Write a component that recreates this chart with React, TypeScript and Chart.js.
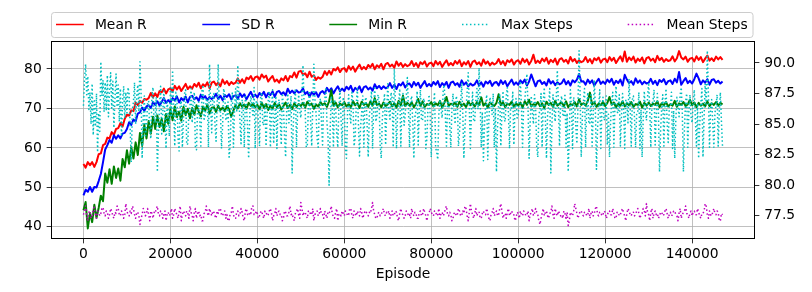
import React, { useEffect, useRef } from "react";
import { Chart, registerables } from "chart.js";

Chart.register(...registerables);

// ---------- data ----------
// reward series: one sample every 500 episodes; step series: one sample every 250 episodes
const R_EPISODE_STEP = 500;
const STEPS_EPISODE_STEP = 250;

const meanR = [
  55.9, 55.0, 56.4, 55.6, 56.4, 55.2, 56.4, 58.4, 58.6, 60.7,
  61.0, 62.6, 62.4, 64.0, 63.3, 64.8, 65.0, 66.3, 65.4, 67.4,
  68.4, 68.2, 69.5, 69.3, 71.5, 70.8, 71.9, 71.4, 72.4, 72.2,
  72.6, 73.9, 72.8, 73.8, 72.9, 74.4, 74.1, 75.0, 73.8, 74.8,
  75.1, 74.3, 75.7, 74.8, 75.6, 74.4, 75.3, 76.2, 74.9, 75.6,
  75.0, 76.2, 75.5, 76.5, 75.1, 76.1, 75.6, 76.6, 75.1, 76.5,
  76.8, 75.9, 76.5, 75.6, 77.3, 76.2, 76.9, 75.9, 76.7, 76.2,
  76.5, 77.6, 76.5, 77.4, 76.4, 77.8, 77.4, 78.2, 77.0, 77.9,
  78.1, 77.3, 78.6, 77.8, 78.3, 76.8, 77.6, 78.2, 76.8, 77.3,
  76.5, 77.6, 77.1, 78.2, 76.9, 78.2, 77.9, 79.1, 77.8, 79.3,
  79.5, 78.5, 78.9, 77.9, 79.3, 78.0, 78.4, 77.2, 77.9, 77.5,
  78.0, 79.4, 78.5, 79.5, 78.6, 80.0, 79.6, 80.4, 79.2, 80.0,
  80.2, 79.3, 80.7, 79.8, 80.6, 79.3, 80.3, 81.1, 79.9, 80.5,
  79.9, 81.0, 80.4, 81.3, 79.9, 80.9, 80.4, 81.3, 79.9, 81.2,
  81.5, 80.6, 81.1, 80.3, 81.9, 80.8, 81.5, 80.5, 81.2, 80.7,
  81.0, 82.0, 80.7, 81.5, 80.4, 81.7, 81.2, 81.9, 80.6, 81.4,
  81.6, 80.7, 82.0, 81.1, 81.8, 80.5, 81.4, 82.2, 80.9, 81.5,
  80.9, 82.0, 81.3, 82.2, 80.7, 81.7, 81.1, 82.0, 80.5, 81.8,
  82.1, 81.2, 81.7, 80.8, 82.4, 81.3, 81.9, 80.9, 81.6, 81.1,
  81.5, 82.5, 81.2, 82.0, 80.9, 82.2, 81.7, 82.4, 81.1, 81.9,
  82.2, 81.3, 82.6, 81.7, 82.4, 81.1, 82.0, 83.6, 81.5, 82.1,
  81.5, 82.6, 81.9, 82.8, 81.3, 82.3, 81.7, 82.6, 81.1, 82.4,
  82.7, 81.8, 82.3, 81.4, 83.0, 81.9, 82.5, 81.5, 82.2, 81.7,
  82.0, 83.0, 81.7, 82.5, 81.4, 82.7, 82.2, 82.9, 81.6, 82.4,
  82.6, 81.7, 83.0, 82.1, 82.8, 81.5, 82.4, 83.2, 81.9, 84.4,
  81.8, 82.9, 82.2, 83.1, 81.6, 82.6, 82.0, 82.9, 81.4, 82.7,
  83.0, 82.1, 82.6, 81.7, 83.3, 82.2, 82.8, 81.8, 82.5, 82.0,
  82.2, 83.2, 81.9, 82.7, 84.5, 82.9, 82.4, 83.1, 81.8, 82.6,
  82.8, 81.9, 83.2, 82.3, 83.0, 81.7, 82.6, 83.4, 82.1, 82.7,
  82.0, 83.1, 82.4, 83.0, 82.3,
];

const sdR = [
  48.0, 49.4, 48.9, 50.1, 48.9, 50.1, 50.0, 51.6, 53.4, 56.4,
  59.6, 60.7, 62.0, 61.3, 63.2, 62.3, 63.2, 62.4, 63.6, 63.8,
  64.8, 66.5, 65.8, 67.2, 66.7, 68.7, 69.0, 70.2, 69.4, 70.5,
  70.8, 70.1, 71.6, 70.9, 71.8, 70.7, 71.7, 72.6, 71.4, 72.1,
  71.5, 72.6, 72.0, 73.0, 71.5, 72.6, 72.0, 73.0, 71.5, 72.9,
  73.2, 72.3, 72.8, 71.9, 73.5, 72.5, 73.1, 72.1, 72.9, 72.4,
  72.7, 73.7, 72.4, 73.2, 72.1, 73.4, 72.9, 73.6, 72.3, 73.1,
  73.3, 72.4, 73.8, 72.9, 73.6, 72.3, 73.3, 74.2, 72.9, 73.5,
  72.8, 73.9, 73.3, 74.2, 72.8, 73.9, 73.4, 74.3, 72.9, 74.2,
  74.4, 73.6, 74.1, 73.3, 75.0, 73.9, 74.5, 73.8, 74.6, 74.0,
  74.2, 75.1, 73.6, 74.2, 72.9, 74.1, 73.5, 74.1, 72.9, 74.0,
  74.4, 73.7, 75.2, 74.3, 75.1, 73.8, 74.8, 75.6, 74.4, 75.0,
  74.4, 75.5, 74.8, 75.7, 74.2, 75.2, 74.7, 75.6, 74.1, 75.4,
  75.6, 74.8, 75.3, 74.5, 76.1, 75.1, 75.7, 74.9, 75.6, 75.1,
  75.4, 76.4, 75.2, 76.0, 74.9, 76.2, 75.8, 76.6, 75.3, 76.1,
  76.3, 75.4, 76.7, 75.8, 76.5, 75.2, 76.1, 76.9, 75.6, 76.2,
  75.6, 76.7, 76.0, 76.9, 75.4, 76.4, 75.8, 76.7, 75.2, 76.5,
  76.8, 75.9, 76.4, 75.5, 77.1, 76.0, 76.6, 75.6, 76.3, 75.8,
  76.1, 77.1, 75.8, 76.6, 75.5, 76.8, 76.3, 77.0, 75.7, 76.5,
  76.7, 75.8, 77.1, 76.2, 76.9, 75.6, 76.5, 77.3, 76.0, 76.6,
  76.0, 77.1, 76.4, 77.3, 75.8, 76.8, 78.6, 77.1, 75.6, 76.9,
  77.1, 76.2, 76.7, 75.8, 77.4, 76.3, 76.9, 75.9, 76.6, 76.1,
  76.4, 77.4, 76.1, 76.9, 75.8, 77.1, 76.6, 77.3, 78.7, 76.8,
  76.9, 76.0, 77.3, 76.4, 77.1, 75.8, 76.7, 77.5, 76.2, 76.8,
  76.2, 77.3, 76.6, 77.5, 76.0, 77.0, 76.4, 77.3, 75.8, 78.5,
  77.3, 76.4, 76.9, 76.0, 77.6, 76.5, 77.1, 76.1, 76.8, 76.3,
  76.5, 77.5, 76.2, 77.0, 75.9, 77.2, 76.7, 77.4, 76.1, 76.9,
  77.1, 76.2, 77.5, 76.6, 79.2, 76.0, 76.9, 77.7, 76.4, 77.0,
  76.3, 77.4, 78.8, 77.6, 76.1, 77.1, 76.5, 77.4, 76.0, 77.2,
  77.4, 76.5, 77.0, 76.3, 76.8,
];

const minR = [
  44.2, 46.3, 39.6, 43.5, 41.2, 45.6, 42.3, 44.8, 47.9, 46.5,
  53.5, 51.2, 54.6, 50.9, 55.3, 52.4, 54.8, 51.7, 57.2, 55.1,
  59.4, 56.0, 60.2, 57.3, 61.4, 58.2, 63.8, 60.5, 65.9, 62.4,
  66.8, 63.6, 67.9, 64.8, 68.2, 65.3, 67.4, 64.2, 68.6, 66.1,
  69.8, 67.0, 70.5, 67.8, 69.2, 66.9, 70.4, 68.3, 69.9, 67.5,
  70.1, 68.4, 70.8, 69.2, 68.0, 70.5, 69.4, 71.0, 68.7, 70.2,
  70.3, 69.1, 70.7, 69.6, 70.2, 69.3, 70.6, 69.8, 67.9, 69.5,
  70.8, 70.0, 71.3, 70.4, 71.0, 69.9, 71.4, 70.6, 71.1, 70.3,
  70.9, 69.8, 71.5, 70.2, 71.1, 69.6, 70.7, 70.0, 71.4, 70.3,
  71.0, 69.7, 70.6, 71.5, 70.1, 70.9, 69.8, 71.3, 70.4, 71.1,
  70.6, 71.4, 70.2, 71.7, 70.8, 71.2, 69.9, 71.0, 70.5, 71.6,
  70.9, 71.3, 70.4, 71.8, 74.6, 70.7, 71.5, 70.3, 71.2, 70.8,
  71.6, 70.5, 71.1, 70.2, 71.9, 70.8, 71.4, 70.1, 71.7, 70.9,
  71.3, 70.4, 71.8, 70.7, 72.6, 70.9, 71.2, 70.3, 71.5, 70.6,
  71.0, 71.7, 70.5, 71.3, 70.2, 71.9, 70.8, 73.2, 70.6, 71.4,
  70.7, 71.5, 70.3, 71.2, 72.4, 70.6, 71.8, 70.4, 71.1, 70.9,
  71.6, 70.5, 71.3, 70.8, 71.9, 70.2, 71.4, 72.9, 70.7, 71.2,
  70.9, 71.5, 70.4, 71.7, 70.6, 71.2, 70.3, 71.8, 70.8, 71.4,
  70.5, 71.6, 70.9, 72.8, 70.7, 71.3, 70.2, 71.5, 71.0, 70.6,
  71.4, 73.6, 70.8, 71.6, 70.3, 71.2, 70.9, 71.7, 70.4, 71.3,
  70.7, 71.5, 70.2, 71.8, 70.9, 72.2, 70.5, 71.1, 70.8, 71.6,
  70.6, 71.3, 70.1, 71.7, 70.9, 71.4, 70.4, 71.9, 70.7, 71.2,
  71.5, 70.6, 71.8, 70.3, 71.1, 70.8, 71.6, 70.5, 72.3, 70.9,
  71.3, 70.7, 71.9, 74.0, 71.0, 71.6, 70.4, 71.2, 70.8, 71.7,
  70.6, 71.4, 72.9, 70.9, 71.5, 70.3, 71.2, 70.7, 71.8, 70.5,
  71.3, 70.8, 71.6, 70.4, 71.1, 70.9, 71.7, 70.2, 71.4, 70.7,
  71.5, 70.6, 71.2, 70.9, 71.8, 70.3, 71.3, 70.8, 71.6, 70.5,
  71.1, 70.7, 71.9, 70.4, 71.3, 70.9, 71.6, 70.6, 71.0, 72.2,
  70.8, 71.5, 70.3, 71.4, 70.7, 71.2, 70.5, 71.8, 70.6, 71.3,
  70.9, 71.6, 70.7, 71.4, 71.0,
];

const maxSteps = [
  86.5, 88.7, 89.9, 87.4, 88.9, 86.2, 87.6, 85.0, 88.3, 84.1, 86.9, 84.8, 87.5, 82.7, 85.9, 84.4, 90.1, 87.3, 88.6, 86.0,
  88.4, 86.1, 89.0, 85.6, 87.8, 89.2, 86.3, 88.5, 84.7, 87.1, 89.1, 86.4, 88.2, 85.2, 87.9, 84.0, 86.8, 88.1, 85.5, 87.6,
  85.9, 88.0, 87.5, 84.6, 81.9, 86.2, 86.8, 88.4, 85.0, 87.3, 88.2, 86.0, 90.1, 87.6, 82.2, 85.4, 87.3, 83.9, 84.9, 86.7,
  86.9, 84.5, 83.8, 87.4, 88.0, 85.1, 85.4, 87.2, 81.1, 84.3, 86.6, 88.1, 84.2, 86.0, 87.7, 85.3, 83.0, 86.8, 86.1, 84.0,
  88.0, 85.7, 89.4, 86.3, 83.2, 87.6, 87.2, 83.9, 82.8, 86.4, 86.9, 83.1, 85.3, 87.5, 87.8, 83.3, 83.4, 86.1, 86.5, 87.9,
  85.1, 86.8, 87.6, 83.0, 82.9, 86.3, 86.8, 85.2, 83.2, 87.7, 88.2, 85.4, 85.7, 87.1, 86.9, 83.1, 89.9, 86.6, 84.3, 87.3,
  87.5, 85.0, 83.6, 86.7, 89.9, 86.1, 86.2, 83.0, 84.8, 87.9, 87.4, 85.3, 85.5, 86.8, 82.3, 83.2, 86.7, 87.6, 83.1, 86.2,
  87.9, 86.0, 89.8, 87.1, 85.2, 83.4, 87.0, 86.3, 83.1, 87.4, 86.4, 84.7, 82.2, 85.8, 87.3, 86.5, 85.6, 88.0, 83.0, 86.9,
  86.8, 85.1, 83.2, 87.2, 87.6, 84.9, 85.0, 86.6, 83.2, 85.9, 86.9, 87.7, 83.1, 86.1, 87.8, 83.4, 85.4, 87.3, 83.0, 86.6,
  87.0, 85.4, 83.3, 87.5, 86.4, 84.0, 82.3, 86.2, 87.5, 85.1, 85.8, 87.3, 81.0, 84.8, 86.6, 87.9, 83.1, 85.9, 87.4, 86.1,
  85.5, 87.2, 89.8, 86.6, 86.2, 83.1, 83.3, 86.9, 87.7, 85.3, 83.2, 86.4, 89.9, 87.0, 85.9, 83.8, 83.1, 86.5, 87.1, 85.2,
  83.3, 86.7, 86.9, 88.0, 85.2, 83.9, 80.0, 84.6, 87.3, 86.1, 83.1, 87.0, 86.5, 84.3, 83.1, 86.4, 87.8, 85.5, 83.2, 87.2,
  86.3, 83.0, 82.2, 86.1, 87.4, 85.7, 85.1, 87.6, 86.8, 83.2, 83.9, 86.6, 87.9, 85.0, 82.4, 84.8, 86.0, 87.3, 83.1, 86.9,
  87.2, 84.9, 82.3, 85.7, 86.5, 87.7, 83.0, 86.3, 88.1, 85.2, 85.6, 87.4, 87.0, 83.2, 82.2, 85.5, 86.4, 87.5, 83.3, 86.0,
  88.3, 86.1, 85.4, 87.6, 87.1, 83.1, 89.5, 86.7, 83.0, 85.8, 86.6, 87.9, 83.2, 86.4, 87.5, 84.9, 85.7, 87.2, 88.8, 86.3,
  83.1, 86.9, 87.3, 85.1, 82.2, 85.6, 86.1, 87.7, 83.3, 86.2, 87.8, 85.3, 85.3, 87.1, 86.7, 83.0, 83.8, 86.5, 87.4, 85.8,
  82.3, 85.4, 86.4, 87.6, 83.1, 82.7, 82.1, 85.9, 87.0, 86.2, 85.5, 87.8, 88.2, 85.6, 83.2, 86.7, 86.9, 84.8, 83.1, 86.3,
  87.5, 85.9, 85.0, 87.3, 86.8, 83.2, 84.3, 86.6, 88.4, 85.9, 82.2, 84.7, 86.2, 87.6, 89.2, 86.4, 83.0, 86.1, 87.6, 85.2,
  85.3, 87.0, 87.9, 86.2, 89.6, 86.8, 83.1, 86.0, 82.0, 84.9, 86.5, 87.4, 82.1, 85.3, 87.2, 86.6, 85.8, 87.5, 83.1, 86.3,
  81.1, 84.8, 86.7, 87.5, 83.2, 86.0, 87.7, 85.4, 85.2, 87.3, 88.0, 85.9, 83.0, 86.4, 86.3, 87.6, 83.3, 86.2, 87.1, 85.5,
  85.6, 87.2, 88.5, 86.3, 83.1, 86.6, 86.9, 88.0, 89.1, 86.5, 82.2, 85.1, 87.3, 86.0, 85.0, 87.4, 86.4, 83.2, 82.3, 85.8,
  86.1, 87.5, 83.1, 86.8, 88.0, 85.4, 82.2, 85.7, 86.6, 87.9, 81.0, 84.9, 87.4, 86.2, 85.2, 87.1, 89.4, 86.5, 83.2, 86.9,
  87.3, 85.8, 85.6, 87.5, 83.1, 85.9, 81.1, 84.2, 87.8, 86.4, 83.0, 87.2, 86.5, 84.8, 83.4, 86.7, 91.0, 87.3, 82.3, 85.5,
  86.8, 87.9, 83.1, 86.3, 87.6, 85.0, 85.1, 87.4, 83.2, 85.7, 88.6, 86.2, 81.3, 84.6, 86.4, 87.8, 83.0, 86.1, 87.2, 85.3,
  85.5, 87.3, 83.3, 85.8, 82.3, 85.2, 86.9, 87.6, 83.1, 86.5, 88.1, 86.0, 85.9, 87.4, 83.2, 85.6, 87.5, 86.3, 83.0, 87.0,
  86.7, 85.1, 88.7, 86.4, 83.2, 87.0, 87.3, 85.5, 83.1, 85.9, 86.0, 87.6, 83.0, 86.2, 82.3, 85.4, 87.7, 86.1, 85.3, 87.2,
  88.4, 86.3, 83.1, 86.6, 86.9, 87.8, 83.3, 85.7, 87.5, 86.0, 81.1, 84.5, 86.3, 87.4, 83.2, 86.6, 87.9, 85.2, 83.5, 86.4,
  86.4, 87.6, 83.0, 86.1, 82.2, 85.3, 87.2, 86.5, 85.6, 87.4, 88.0, 85.9, 81.1, 84.8, 86.8, 87.5, 83.1, 86.0, 87.4, 85.6,
  85.1, 86.8, 87.8, 85.4, 83.2, 86.7, 82.2, 85.0, 86.6, 87.9, 82.3, 85.5, 88.3, 86.6, 91.0, 87.4, 83.1, 86.3, 87.0, 85.1,
  83.1, 85.9, 86.5, 87.4, 83.2, 86.0, 87.6, 85.2, 83.1,
];

const meanSteps = [
  77.6, 77.9, 78.3, 77.5, 77.1, 77.8, 77.9, 77.3, 77.5, 78.1, 78.2, 77.6, 77.3, 77.9, 77.8, 77.5, 77.7, 78.1, 78.2, 77.7,
  77.5, 77.9, 77.8, 77.3, 77.6, 78.1, 77.9, 77.5, 77.3, 77.8, 77.7, 78.3, 78.1, 77.6, 77.5, 77.9, 77.8, 77.3, 77.6, 78.5,
  77.9, 77.6, 77.5, 77.9, 77.7, 78.3, 78.1, 77.6, 77.3, 77.8, 77.8, 77.5, 76.8, 77.3, 77.6, 78.1, 77.9, 77.5, 77.7, 78.1,
  77.6, 77.1, 77.9, 77.7, 77.3, 77.8, 77.7, 78.1, 78.3, 77.6, 77.5, 77.9, 77.8, 77.3, 77.6, 77.9, 77.1, 77.6, 77.8, 77.5,
  77.7, 78.1, 77.3, 77.6, 78.1, 77.8, 77.6, 77.3, 77.8, 78.3, 77.1, 77.6, 77.9, 77.7, 77.5, 77.9, 77.7, 77.3, 78.3, 77.8,
  77.5, 77.1, 77.8, 78.1, 77.3, 77.7, 77.9, 77.5, 77.6, 77.1, 77.1, 77.7, 77.8, 78.3, 77.7, 77.5, 78.1, 77.8, 77.5, 77.9,
  77.8, 77.5, 77.3, 77.9, 77.7, 78.1, 78.1, 77.6, 77.5, 77.8, 77.9, 77.3, 77.6, 77.1, 77.1, 77.7, 77.8, 78.3, 77.6, 77.3,
  77.3, 77.8, 77.9, 77.5, 77.6, 78.1, 77.8, 77.3, 77.1, 77.9, 78.1, 77.6, 77.5, 77.8, 77.7, 78.3, 78.3, 77.6, 77.6, 77.9,
  77.7, 77.3, 77.5, 77.8, 77.9, 77.5, 77.3, 77.9, 77.8, 77.5, 77.6, 77.9, 78.1, 77.7, 77.1, 77.5, 77.7, 78.1, 77.5, 77.8,
  77.9, 77.6, 77.6, 77.1, 77.3, 77.9, 77.8, 77.5, 77.5, 77.8, 78.3, 77.6, 77.7, 77.3, 77.1, 77.7, 77.9, 78.1, 77.6, 77.3,
  78.6, 78.1, 77.5, 77.8, 77.8, 77.5, 77.3, 77.9, 77.9, 77.6, 77.6, 78.1, 77.1, 77.6, 77.8, 77.9, 77.5, 77.7, 78.1, 77.6,
  77.6, 77.3, 77.9, 77.6, 77.3, 77.8, 77.7, 77.9, 78.3, 77.6, 77.5, 77.3, 77.8, 78.1, 77.1, 77.6, 77.7, 77.5, 77.9, 77.7,
  77.5, 77.9, 77.8, 77.5, 77.6, 78.1, 78.1, 77.5, 77.3, 77.9, 77.7, 77.5, 77.9, 77.7, 77.5, 78.1, 77.8, 77.3, 77.6, 77.9,
  77.9, 77.6, 77.5, 77.8, 77.7, 78.1, 78.6, 77.9, 77.6, 77.3, 77.3, 77.7, 77.8, 77.5, 77.6, 77.9, 78.1, 77.6, 77.5, 77.8,
  77.7, 77.9, 77.3, 77.6, 77.9, 77.5, 77.6, 77.9, 77.8, 77.3, 77.1, 77.7, 78.1, 77.7, 77.6, 77.3, 77.5, 77.9, 77.8, 77.5,
  77.6, 77.3, 78.1, 77.7, 77.5, 77.8, 77.7, 77.3, 77.3, 77.8, 77.9, 77.5, 77.6, 78.1, 77.8, 77.5, 77.1, 77.6, 77.7, 78.1,
  77.8, 77.6, 77.5, 77.9, 77.9, 77.5, 77.6, 78.1, 77.3, 77.7, 77.8, 77.5, 77.7, 78.1, 78.3, 77.6, 77.5, 77.8, 77.6, 77.1,
  77.3, 77.7, 77.8, 77.5, 77.6, 78.1, 77.9, 77.5, 77.5, 77.9, 77.7, 78.3, 78.1, 77.5, 77.1, 77.8, 78.5, 77.9, 77.6, 77.3,
  77.7, 78.1, 77.5, 77.8, 77.8, 77.3, 77.3, 77.7, 77.9, 77.6, 77.6, 78.1, 77.7, 77.3, 77.1, 77.6, 77.8, 78.1, 77.5, 77.7,
  77.9, 77.5, 77.6, 78.1, 78.5, 77.9, 77.3, 77.6, 77.7, 77.3, 77.8, 78.1, 77.5, 77.7, 77.9, 77.6, 77.6, 77.1, 77.3, 77.8,
  77.7, 77.3, 77.9, 77.6, 77.5, 77.9, 77.8, 77.5, 77.6, 77.9, 77.1, 77.6, 77.8, 78.1, 77.5, 77.7, 78.1, 77.8, 77.6, 77.1,
  76.8, 77.3, 77.7, 78.1, 77.5, 77.8, 77.9, 77.5, 77.3, 77.7, 77.8, 78.3, 77.6, 77.3, 78.1, 77.7, 77.5, 77.9, 77.7, 77.5,
  77.6, 77.3, 77.9, 77.7, 77.3, 77.8, 76.7, 77.1, 77.8, 77.6, 77.5, 77.9, 78.5, 78.1, 77.7, 77.3, 77.6, 77.9, 77.9, 77.6,
  77.5, 77.8, 77.8, 77.5, 77.6, 78.1, 77.3, 77.7, 77.9, 77.5, 77.7, 78.1, 78.3, 77.6, 77.5, 77.8, 77.8, 77.5, 77.6, 77.9,
  77.8, 77.3, 77.5, 77.9, 77.9, 77.6, 77.6, 78.1, 77.7, 77.3, 77.3, 77.8, 77.8, 77.5, 77.6, 77.9, 78.1, 77.7, 77.5, 77.1,
  77.7, 78.1, 77.9, 77.6, 77.5, 77.8, 77.8, 77.5, 77.6, 77.9, 78.1, 77.7, 77.3, 77.6, 77.7, 78.1, 77.9, 77.5, 78.5, 77.8,
  77.6, 77.1, 77.8, 78.1, 77.3, 77.7, 77.9, 77.6, 77.7, 77.3, 77.5, 77.8, 77.8, 77.5, 77.6, 77.9, 78.1, 77.7, 77.3, 77.6,
  77.8, 77.5, 77.6, 77.9, 77.9, 77.6, 77.5, 77.1, 77.7, 78.1, 77.3, 77.6, 77.8, 77.9, 78.3, 77.7, 77.6, 77.3, 77.7, 77.9,
  77.5, 77.8, 77.9, 77.6, 77.6, 78.1, 77.8, 77.5, 77.3, 77.7, 77.7, 77.9, 78.5, 78.3, 77.6, 77.3, 77.9, 77.6, 77.5, 77.8,
  78.1, 77.7, 77.6, 77.9, 77.8, 77.1, 77.1, 77.7, 77.6,
];

const rEpisodes = meanR.map((_, i) => i * R_EPISODE_STEP);
const stepsEpisodes = maxSteps.map((_, i) => i * STEPS_EPISODE_STEP);

const xTicks = [0, 20000, 40000, 60000, 80000, 100000, 120000, 140000];
const leftTicks = [40, 50, 60, 70, 80];
const rightTicks = [77.5, 80, 82.5, 85, 87.5, 90];
const seriesLabels = ["Mean R", "SD R", "Min R", "Max Steps", "Mean Steps"];
const seriesColors = ["#ff0000", "#0000ff", "#008000", "#00bfbf", "#bf00bf"];

// ---------- layout constants ----------
const W = 812;
const H = 292;
const AREA = { left: 51.5, right: 754.5, top: 41.5, bottom: 238.5 };
const X_RANGE = { min: -7350, max: 154350 };
const Y_RANGE = { min: 37.06, max: 86.94 };
const Y1_RANGE = { min: 75.65, max: 91.75 };
const FONT = { family: "'DejaVu Sans', sans-serif", size: 13.89, lineHeight: 1.2 };
const TICK_LEN = 4.86;
const DOT = [1.5, 2.475];
const LEGEND_BOX = { x: 51.5, y: 12.5, w: 701.5, h: 25, r: 2.8 };
const LEGEND_X = [56, 202.3, 329.3, 462, 627.7];
const LEGEND_LINE_Y = 24.5;
const LEGEND_TEXT_Y = 28.6;
const HANDLE_LEN = 27.8;
const TEXT_GAP = 38.9;

const toPoints = (vals: number[], xs: number[]) => vals.map((v, i) => ({ x: xs[i], y: v }));

const framePlugin = {
  id: "mplFrame",
  afterDatasetsDraw(chart: any) {
    const { ctx, chartArea } = chart;
    ctx.save();
    ctx.strokeStyle = "#000";
    ctx.lineWidth = 1;
    ctx.strokeRect(
      chartArea.left,
      chartArea.top,
      chartArea.right - chartArea.left,
      chartArea.bottom - chartArea.top
    );
    ctx.restore();
  },
};

const legendPlugin = {
  id: "mplLegend",
  afterDraw(chart: any) {
    const ctx = chart.ctx as CanvasRenderingContext2D;
    ctx.save();
    ctx.beginPath();
    (ctx as any).roundRect(LEGEND_BOX.x, LEGEND_BOX.y, LEGEND_BOX.w, LEGEND_BOX.h, LEGEND_BOX.r);
    ctx.fillStyle = "rgba(255,255,255,0.8)";
    ctx.fill();
    ctx.strokeStyle = "#cccccc";
    ctx.lineWidth = 1;
    ctx.stroke();
    chart.data.datasets.forEach((ds: any, i: number) => {
      const x0 = LEGEND_X[i];
      ctx.beginPath();
      ctx.setLineDash(ds.borderDash || []);
      ctx.strokeStyle = ds.borderColor;
      ctx.lineWidth = 1.5;
      ctx.moveTo(x0, LEGEND_LINE_Y);
      ctx.lineTo(x0 + HANDLE_LEN, LEGEND_LINE_Y);
      ctx.stroke();
      ctx.setLineDash([]);
      ctx.fillStyle = "#000";
      ctx.font = `${FONT.size}px ${FONT.family}`;
      ctx.textBaseline = "alphabetic";
      ctx.textAlign = "left";
      ctx.fillText(ds.label, x0 + TEXT_GAP, LEGEND_TEXT_Y);
    });
    ctx.restore();
  },
};

export default function App() {
  const canvasRef = useRef<HTMLCanvasElement | null>(null);

  useEffect(() => {
    if (!canvasRef.current) return;
    const seriesData = [meanR, sdR, minR, maxSteps, meanSteps];
    const seriesX = [rEpisodes, rEpisodes, rEpisodes, stepsEpisodes, stepsEpisodes];
    const axisIds = ["y", "y", "y", "y1", "y1"];
    const drawOrder = [5, 4, 3, 2, 1];
    const datasets = seriesData.map((vals, i) => ({
      label: seriesLabels[i],
      data: toPoints(vals, seriesX[i]),
      yAxisID: axisIds[i],
      borderColor: seriesColors[i],
      backgroundColor: seriesColors[i],
      borderWidth: i >= 3 ? 1.5 : 2,
      borderDash: i >= 3 ? DOT : [],
      borderJoinStyle: "round" as const,
      pointRadius: 0,
      tension: 0,
      fill: false,
      order: drawOrder[i],
    }));

    const gridBase = {
      color: "#b0b0b0",
      lineWidth: 0.8,
      tickColor: "#000",
      tickLength: TICK_LEN,
      tickWidth: 0.8,
    };
    const tickFont = { family: FONT.family, size: FONT.size, lineHeight: FONT.lineHeight };

    const chart = new Chart(canvasRef.current, {
      type: "line",
      data: { datasets },
      options: {
        animation: false,
        responsive: false,
        devicePixelRatio: 1,
        events: [],
        layout: { padding: { top: AREA.top, left: 0, right: 0, bottom: 0 } },
        plugins: { legend: { display: false }, tooltip: { enabled: false } },
        scales: {
          x: {
            type: "linear",
            min: X_RANGE.min,
            max: X_RANGE.max,
            afterBuildTicks: (s: any) => {
              s.ticks = xTicks.map((v) => ({ value: v }));
            },
            afterFit: (s: any) => {
              s.height = H - AREA.bottom;
            },
            ticks: {
              color: "#000",
              font: tickFont,
              padding: 2.7,
              autoSkip: false,
              maxRotation: 0,
              callback: (v: any) => String(v),
            },
            grid: gridBase,
            border: { display: false },
            title: {
              display: true,
              text: "Episode",
              color: "#000",
              font: tickFont,
              padding: { top: 0, bottom: 9.5 },
            },
          },
          y: {
            type: "linear",
            position: "left",
            min: Y_RANGE.min,
            max: Y_RANGE.max,
            afterBuildTicks: (s: any) => {
              s.ticks = leftTicks.map((v) => ({ value: v }));
            },
            afterFit: (s: any) => {
              s.width = AREA.left;
            },
            ticks: {
              color: "#000",
              font: tickFont,
              padding: TICK_LEN,
              autoSkip: false,
              callback: (v: any) => String(v),
            },
            grid: gridBase,
            border: { display: false },
          },
          y1: {
            type: "linear",
            position: "right",
            min: Y1_RANGE.min,
            max: Y1_RANGE.max,
            afterBuildTicks: (s: any) => {
              s.ticks = rightTicks.map((v) => ({ value: v }));
            },
            afterFit: (s: any) => {
              s.width = W - AREA.right;
            },
            ticks: {
              color: "#000",
              font: tickFont,
              padding: TICK_LEN,
              autoSkip: false,
              callback: (v: any) => Number(v).toFixed(1),
            },
            grid: { ...gridBase, drawOnChartArea: false },
            border: { display: false },
          },
        },
      },
      plugins: [framePlugin, legendPlugin],
    } as any);

    return () => chart.destroy();
  }, []);

  return (
    <div style={{ position: "fixed", left: 0, top: 0, width: W, height: H, background: "#fff" }}>
      <canvas ref={canvasRef} width={W} height={H} style={{ display: "block" }} />
    </div>
  );
}
